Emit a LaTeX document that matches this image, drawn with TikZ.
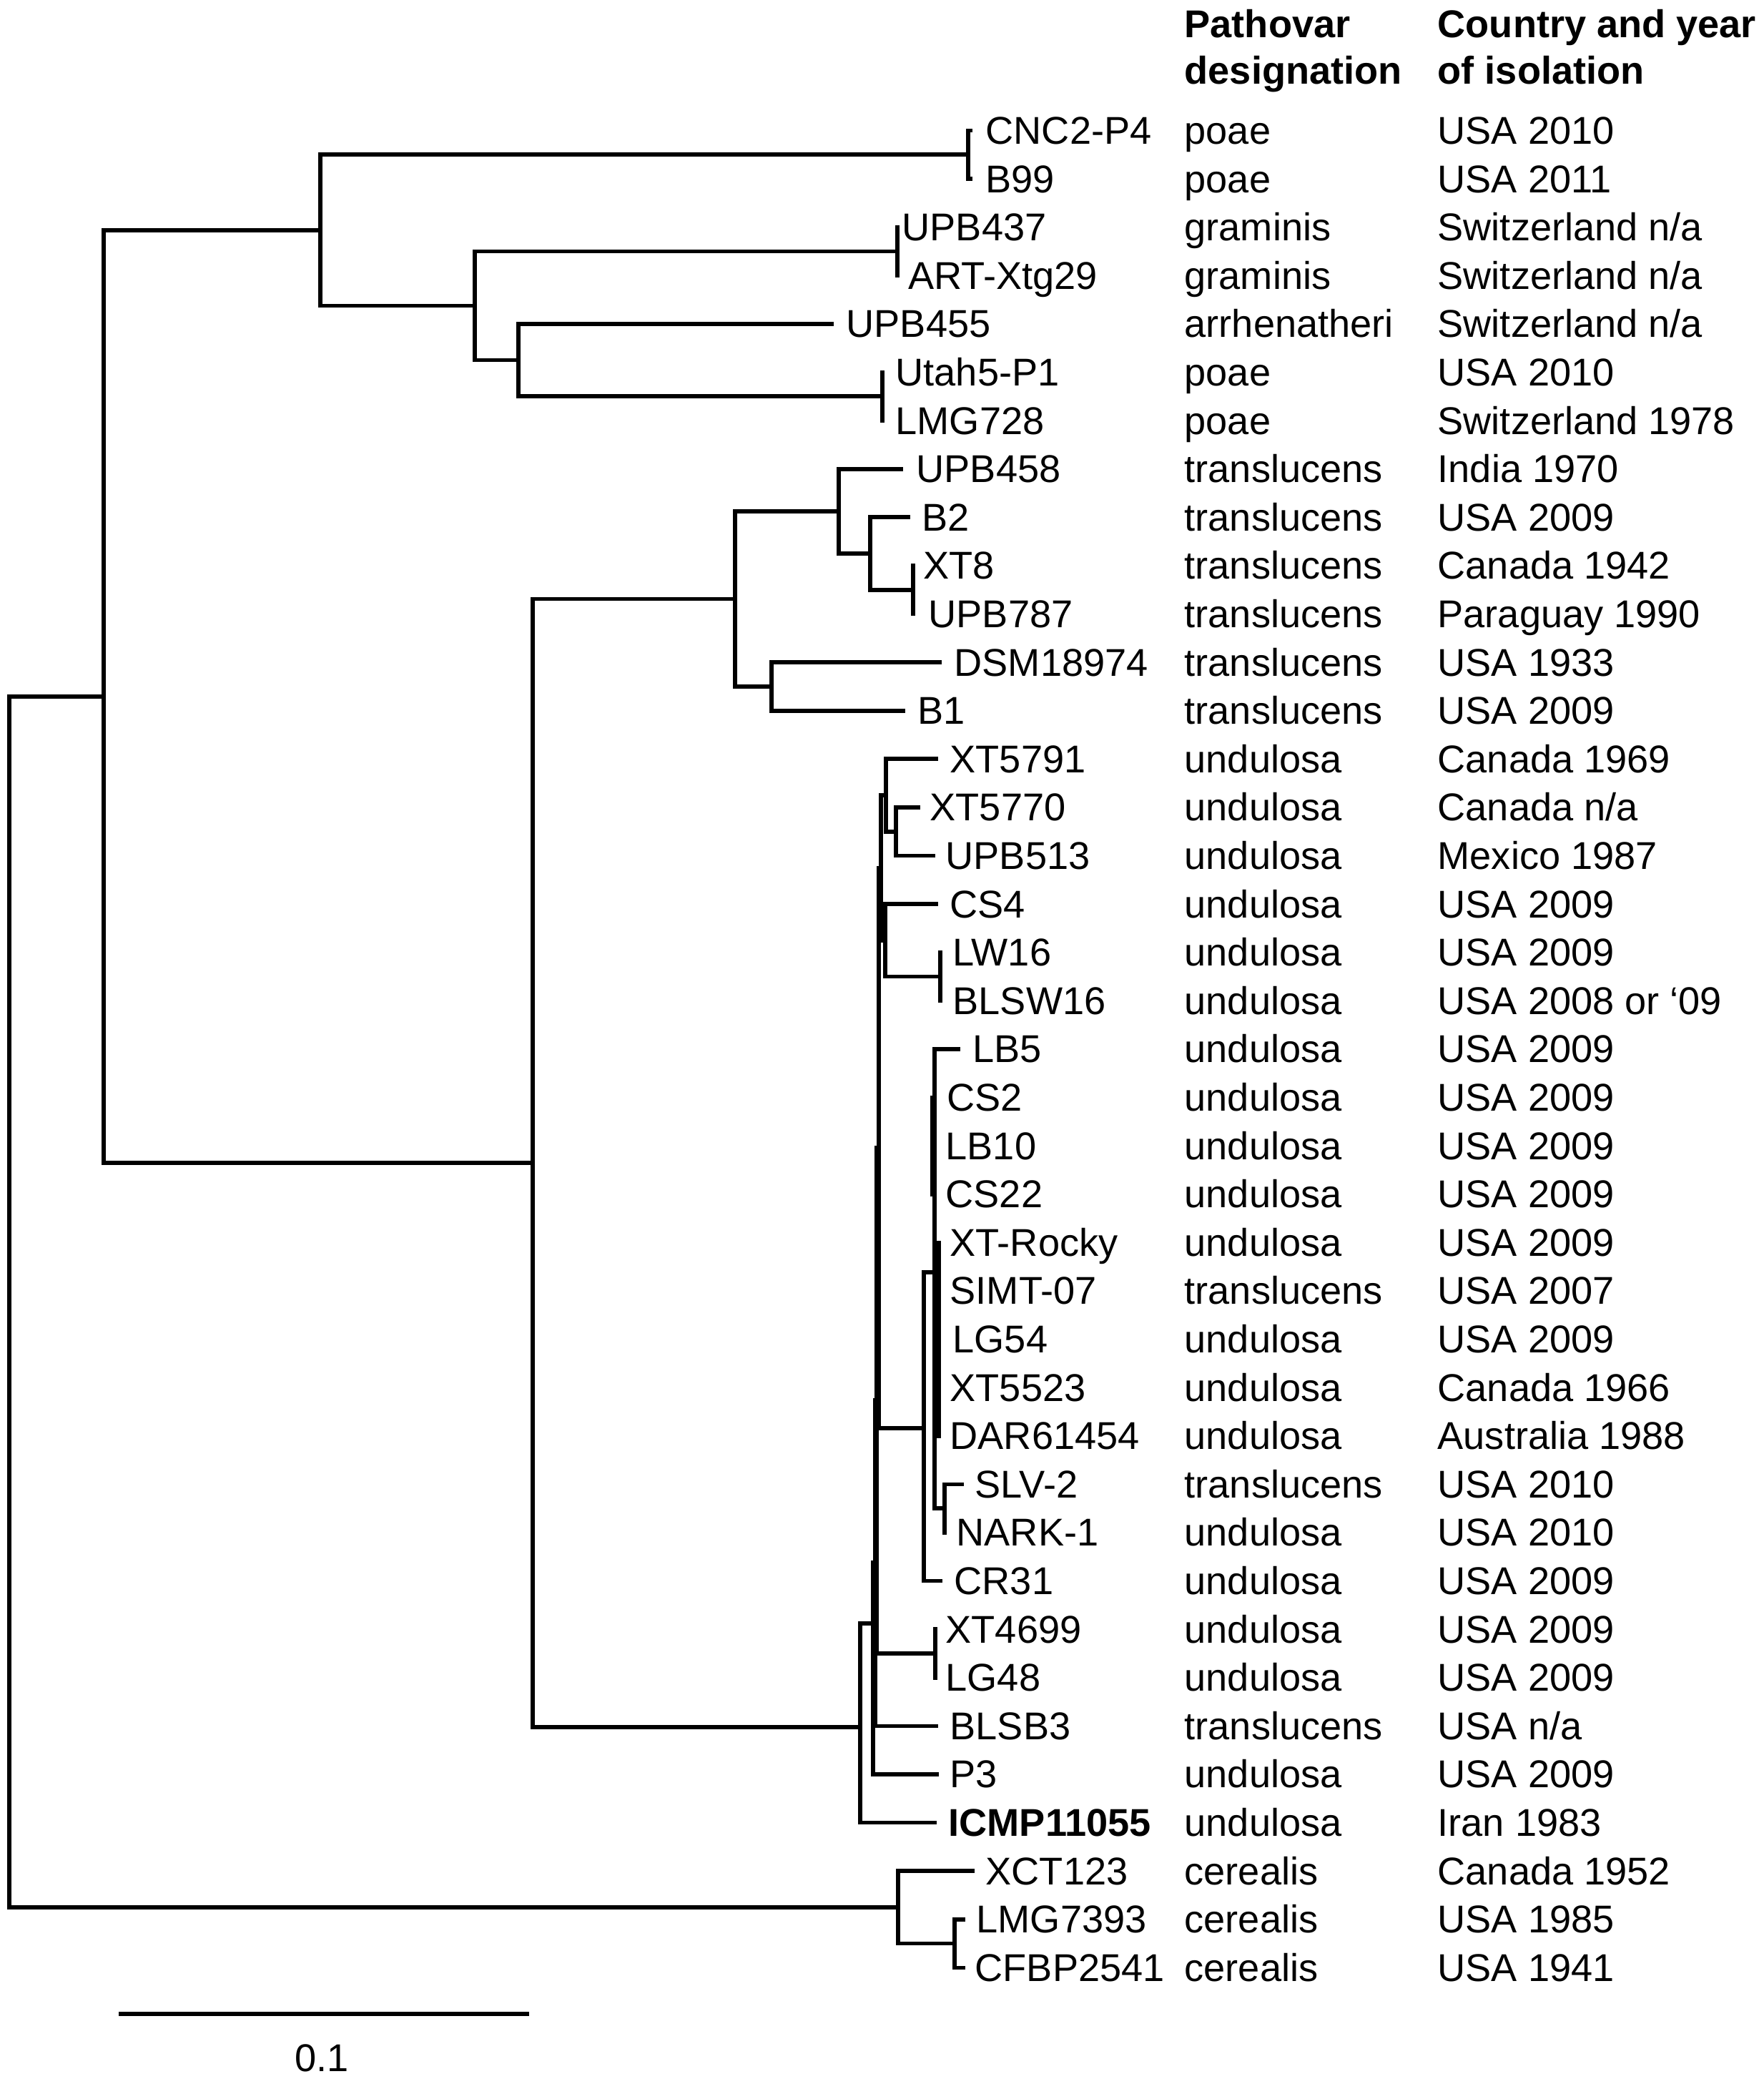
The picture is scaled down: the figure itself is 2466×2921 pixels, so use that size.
\documentclass[tikz,border=0pt]{standalone}
\usepackage{fontspec}
\setmainfont{Liberation Sans}
\newcommand\trow[6]{%
  \pgfmathsetmacro\ytip{182.5+67.6*#1}%
  \pgfmathsetmacro\yb{182.5+67.6*#1+19}%
  \coordinate (t#1) at (#2,\ytip);
  \node[lab] (l#1) at (#3,\yb) {#4};
  \node[lab] (p#1) at (1656,\yb) {#5};
  \node[lab] (c#1) at (2010,\yb) {#6};
}
\begin{document}
\begin{tikzpicture}[x=0.01cm,y=-0.01cm,
  every node/.style={font=\fontsize{15.4pt}{18pt}\selectfont},
  lab/.style={anchor=base west,inner sep=0pt},
  hdr/.style={anchor=base west,inner sep=0pt,font=\fontsize{15.4pt}{18pt}\selectfont\bfseries},
  br/.style={line width=1.6pt,line join=miter}]
\useasboundingbox (0,0) rectangle (2466,2921);
% headers
\node[hdr] (h1) at (1656,53) {Pathovar};
\node[hdr] (h2) at (1656,118) {designation};
\node[hdr] (h3) at (2010,53) {Country and year};
\node[hdr] (h4) at (2010,118) {of isolation};
% rows
\trow{0}{1360}{1378}{CNC2-P4}{poae}{USA 2010}
\trow{1}{1360}{1378}{B99}{poae}{USA 2011}
\trow{2}{1258}{1261}{UPB437}{graminis}{Switzerland n/a}
\trow{3}{1258}{1270}{ART-Xtg29}{graminis}{Switzerland n/a}
\trow{4}{1166}{1183}{UPB455}{arrhenatheri}{Switzerland n/a}
\trow{5}{1237}{1252}{Utah5-P1}{poae}{USA 2010}
\trow{6}{1237}{1252}{LMG728}{poae}{Switzerland 1978}
\trow{7}{1263}{1281}{UPB458}{translucens}{India 1970}
\trow{8}{1273}{1289}{B2}{translucens}{USA 2009}
\trow{9}{1280}{1291}{XT8}{translucens}{Canada 1942}
\trow{10}{1280}{1298}{UPB787}{translucens}{Paraguay 1990}
\trow{11}{1317}{1334}{DSM18974}{translucens}{USA 1933}
\trow{12}{1266}{1283}{B1}{translucens}{USA 2009}
\trow{13}{1312}{1328}{XT5791}{undulosa}{Canada 1969}
\trow{14}{1287}{1300}{XT5770}{undulosa}{Canada n/a}
\trow{15}{1308}{1322}{UPB513}{undulosa}{Mexico 1987}
\trow{16}{1312}{1328}{CS4}{undulosa}{USA 2009}
\trow{17}{1318}{1332}{LW16}{undulosa}{USA 2009}
\trow{18}{1318}{1332}{BLSW16}{undulosa}{USA 2008 or ‘09}
\trow{19}{1343}{1360}{LB5}{undulosa}{USA 2009}
\trow{20}{1308}{1324}{CS2}{undulosa}{USA 2009}
\trow{21}{1308}{1322}{LB10}{undulosa}{USA 2009}
\trow{22}{1308}{1322}{CS22}{undulosa}{USA 2009}
\trow{23}{1316}{1328}{XT-Rocky}{undulosa}{USA 2009}
\trow{24}{1316}{1328}{SIMT-07}{translucens}{USA 2007}
\trow{25}{1316}{1332}{LG54}{undulosa}{USA 2009}
\trow{26}{1316}{1328}{XT5523}{undulosa}{Canada 1966}
\trow{27}{1316}{1328}{DAR61454}{undulosa}{Australia 1988}
\trow{28}{1348}{1363}{SLV-2}{translucens}{USA 2010}
\trow{29}{1324}{1337}{NARK-1}{undulosa}{USA 2010}
\trow{30}{1318}{1334}{CR31}{undulosa}{USA 2009}
\trow{31}{1311}{1322}{XT4699}{undulosa}{USA 2009}
\trow{32}{1311}{1322}{LG48}{undulosa}{USA 2009}
\trow{33}{1312}{1328}{BLSB3}{translucens}{USA n/a}
\trow{34}{1313}{1328}{P3}{undulosa}{USA 2009}
\trow{35}{1310}{1326}{\bfseries ICMP11055}{undulosa}{Iran 1983}
\trow{36}{1363}{1378}{XCT123}{cerealis}{Canada 1952}
\trow{37}{1350}{1365}{LMG7393}{cerealis}{USA 1985}
\trow{38}{1350}{1363}{CFBP2541}{cerealis}{USA 1941}
% internal nodes
\coordinate (ncb) at (1354,216.3);
\coordinate (nga) at (1255,351.5);
\coordinate (nul) at (1234,554.3);
\coordinate (n455) at (725,503.6);
\coordinate (n664) at (664,427.5);
\coordinate (n448) at (448,321.9);
\coordinate (nxu) at (1277,824.7);
\coordinate (nb2) at (1217,774);
\coordinate (n458) at (1173,714.9);
\coordinate (ndb) at (1079,959.9);
\coordinate (ntr) at (1028,837.4);
\coordinate (nx1) at (1253,1162.7);
\coordinate (nx0) at (1239,1112);
\coordinate (nlw) at (1315,1365.5);
\coordinate (ncs4) at (1238,1314.8);
\coordinate (uc) at (1232,1213.4);
\coordinate (ncs) at (1304,1602.1);
\coordinate (nxr) at (1313,1872.5);
\coordinate (nsn) at (1321,2109.1);
\coordinate (nlb) at (1307,1779);
\coordinate (n1292) at (1292,1997);
\coordinate (ud) at (1229,1605);
\coordinate (nx4) at (1308,2311.9);
\coordinate (ue) at (1226,1958);
\coordinate (uf) at (1224,2185);
\coordinate (ub) at (1221,2270);
\coordinate (ua) at (1203,2415);
\coordinate (n745) at (745,1626);
\coordinate (n145) at (145,974);
\coordinate (nlc) at (1335,2717.5);
\coordinate (ncer) at (1256,2666.8);
\coordinate (root) at (13,1820);
\foreach \a/\b in {ncb/t0,ncb/t1,nga/t2,nga/t3,nul/t5,nul/t6,n455/t4,n455/nul,
  n664/nga,n664/n455,n448/ncb,n448/n664,
  nxu/t9,nxu/t10,nb2/t8,nb2/nxu,n458/t7,n458/nb2,ndb/t11,ndb/t12,ntr/n458,ntr/ndb,
  nx1/t14,nx1/t15,nx0/t13,nx0/nx1,nlw/t17,nlw/t18,ncs4/t16,ncs4/nlw,uc/nx0,uc/ncs4,
  ncs/t20,ncs/t21,ncs/t22,nxr/t23,nxr/t24,nxr/t25,nxr/t26,nxr/t27,nsn/t28,nsn/t29,
  nlb/t19,nlb/ncs,nlb/nxr,nlb/nsn,n1292/nlb,n1292/t30,ud/uc,ud/n1292,
  nx4/t31,nx4/t32,ue/ud,ue/nx4,uf/ue,uf/t33,ub/uf,ub/t34,ua/ub,ua/t35,
  n745/ntr,n745/ua,n145/n448,n145/n745,nlc/t37,nlc/t38,ncer/t36,ncer/nlc,
  root/n145,root/ncer}
  \draw[br] (\a) |- (\b);
% scale bar
\coordinate (sbL) at (166,2816);
\coordinate (sbR) at (740,2816);
\draw[br,line width=1.8pt] (sbL) -- (sbR);
\node[anchor=base,inner sep=0pt] (sbl) at (450,2896) {0.1};
\end{tikzpicture}
\end{document}
